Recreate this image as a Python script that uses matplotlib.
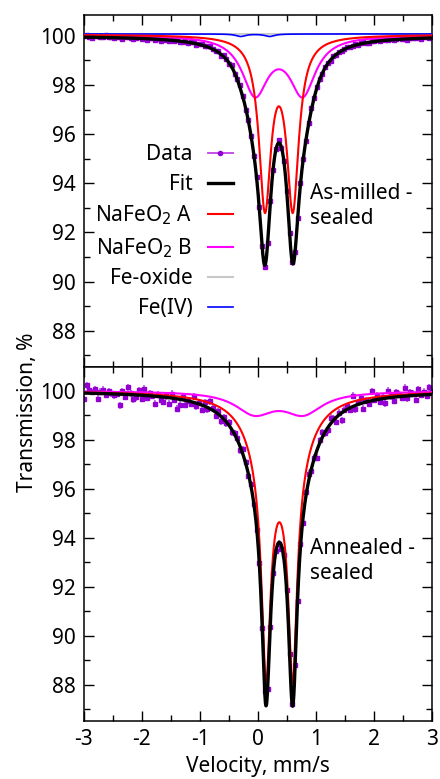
import numpy as np
import matplotlib
matplotlib.use("Agg")
import matplotlib.pyplot as plt
from matplotlib.lines import Line2D

plt.rcParams['font.family'] = ['Noto Sans', 'DejaVu Sans']
plt.rcParams['font.size'] = 15
plt.rcParams['axes.unicode_minus'] = False

# velocity channels, mm/s
v_min, v_max, n_chan = -3.0, 3.0, 128

# doublet lines: centre, splitting, hwhm, depth (%)
top_A = [[0.36, 0.48, 0.125, 6.83]]
top_B = [[0.36, 0.82, 0.27, 2.33]]
top_FeIV = [[-0.05, 0.50, 0.10, 0.10]]
top_base = 100.0
top_comp_base = 100.05
top_side_base = 100.08

# annealed: A has a narrow core and broader wings
bot_A = [[0.368, 0.46, 0.09, 8.6], [0.368, 0.46, 0.35, 2.2]]
bot_B = [[0.36, 0.84, 0.40, 0.86]]
bot_base = 100.0

# data minus fit (%)
top_resid = [
    0.05, 0.08, 0.02, -0.03, 0.04, 0.06, 0.01, 0.03, 0.09, 0.02, 0.04, -0.02, 0.05, 0.03, -0.04, 0.02,
    0.06, 0.00, -0.05, 0.03, 0.07, -0.02, 0.01, -0.04, 0.02, 0.05, -0.03, 0.00, -0.06, 0.02, -0.02, -0.05,
    0.01, -0.03, 0.03, -0.04, -0.02, 0.02, -0.05, 0.01, 0.04, -0.03, 0.02, 0.05, -0.02, 0.03, 0.06, 0.02,
    -0.03, 0.04, -0.05, 0.08, 0.03, -0.04, 0.10, -0.06, 0.05, 0.12, 0.04, -0.08, 0.06, 0.02, -0.05, 0.03,
    0.10, 0.02, -0.07, 0.04, 0.08, -0.03, 0.05, 0.12, -0.04, 0.06, 0.03, -0.05, 0.02, 0.04, -0.03, 0.05,
    0.02, -0.04, 0.03, 0.06, -0.02, 0.04, 0.01, -0.03, 0.05, 0.02, -0.04, 0.03, 0.00, 0.04, -0.02, 0.03,
    0.05, -0.01, 0.02, 0.04, -0.03, 0.02, 0.05, 0.00, -0.02, 0.04, 0.01, 0.03, -0.02, 0.05, 0.02, 0.01,
    0.04, -0.02, 0.03, 0.05, 0.00, 0.02, -0.03, 0.04, 0.02, 0.01, 0.05, -0.01, 0.03, 0.06, 0.02, 0.04,
]
bot_resid = [
    -0.25, 0.32, 0.12, 0.05, 0.18, -0.22, 0.08, 0.15, -0.05, 0.10, 0.02, -0.05, 0.00, -0.45, 0.12, -0.10,
    0.30, 0.05, -0.18, -0.10, 0.20, -0.15, 0.28, -0.08, 0.10, 0.02, -0.30, 0.08, -0.12, -0.20, 0.05, -0.25,
    0.18, -0.05, -0.40, -0.22, 0.10, -0.18, 0.00, -0.10, 0.25, -0.12, 0.05, -0.20, 0.15, -0.08, 0.30, 0.10,
    -0.15, 0.12, -0.20, 0.08, -0.05, 0.15, -0.10, 0.05, 0.10, -0.15, 0.20, 0.05, -0.08, 0.12, 0.00, -0.10,
    0.08, -0.12, 0.15, 0.05, -0.10, 0.10, 0.02, -0.05, -0.15, 0.20, 0.12, -0.08, 0.05, 0.15, -0.20, 0.10,
    -0.25, 0.15, 0.28, -0.10, 0.05, -0.30, 0.12, 0.20, -0.05, -0.12, 0.25, 0.08, -0.18, 0.10, -0.30, 0.05,
    0.12, -0.08, 0.45, -0.15, 0.10, 0.22, -0.25, 0.05, -0.10, 0.38, 0.00, 0.15, -0.12, 0.08, -0.20, 0.30,
    0.05, -0.15, 0.20, 0.10, -0.05, 0.35, -0.10, 0.15, 0.08, -0.18, 0.25, 0.02, 0.12, -0.05, 0.30, 0.15,
]
top_err = 0.03
bot_err = 0.14

legend_labels = ['Data', 'Fit', 'NaFeO$_2$ A', 'NaFeO$_2$ B', 'Fe-oxide', 'Fe(IV)']
panel_labels = ['As-milled -\nsealed', 'Annealed -\nsealed']


def absorption(v, lines):
    out = np.zeros_like(v)
    for c, q, g, d in lines:
        out += d * (g**2 / (g**2 + (v - c + q / 2)**2) + g**2 / (g**2 + (v - c - q / 2)**2))
    return out


vel = np.linspace(v_min, v_max, n_chan)
vf = np.linspace(v_min, v_max, 1200)

fig = plt.figure(figsize=(4.40, 7.79), dpi=100)
ax1 = fig.add_axes([0.1909, 0.5289, 0.7909, 0.4518])
ax2 = fig.add_axes([0.1909, 0.0745, 0.7909, 0.4544])

# top panel
top_all = top_A + top_B + top_FeIV
fit_top = top_base - absorption(vf, top_all)
dat_top = top_base - absorption(vel, top_all) + np.array(top_resid)
ax1.errorbar(vel, dat_top, yerr=top_err, fmt='s', ms=2.2, color='#9400d3', ecolor='#b060e8',
             elinewidth=1.2, capsize=0, zorder=2)
ax1.plot(vf, np.full_like(vf, top_side_base), color='#c8c8c8', lw=1.3, zorder=3)
ax1.plot(vf, top_side_base - absorption(vf, top_FeIV), color='#0000ff', lw=1.2, zorder=3)
ax1.plot(vf, top_comp_base - absorption(vf, top_B), color='#ff00ff', lw=1.5, zorder=4)
ax1.plot(vf, top_comp_base - absorption(vf, top_A), color='#ff0000', lw=1.5, zorder=4)
ax1.plot(vf, fit_top, color='black', lw=2.4, zorder=5)

# bottom panel
bot_all = bot_A + bot_B
fit_bot = bot_base - absorption(vf, bot_all)
dat_bot = bot_base - absorption(vel, bot_all) + np.array(bot_resid)
ax2.errorbar(vel, dat_bot, yerr=bot_err, fmt='s', ms=2.2, color='#9400d3', ecolor='#b060e8',
             elinewidth=1.2, capsize=0, zorder=2)
ax2.plot(vf, bot_base - absorption(vf, bot_B), color='#ff00ff', lw=1.5, zorder=4)
ax2.plot(vf, bot_base - absorption(vf, bot_A), color='#ff0000', lw=1.5, zorder=4)
ax2.plot(vf, fit_bot, color='black', lw=2.4, zorder=5)

for ax in (ax1, ax2):
    ax.set_xlim(-3, 3)
    ax.set_xticks(np.arange(-3, 4, 1))
    ax.set_xticks(np.arange(-3, 3.1, 0.5), minor=True)
    ax.set_yticks(np.arange(88, 101, 2))
    ax.set_yticks(np.arange(87, 101, 1), minor=True)
    ax.tick_params(which='both', direction='in', top=True, right=True, width=1)
    ax.tick_params(which='major', length=7, pad=6)
    ax.tick_params(which='minor', length=4)
    for s in ax.spines.values():
        s.set_linewidth(1.1)

ax1.set_ylim(86.52, 100.85)
ax2.set_ylim(86.53, 100.98)
ax1.tick_params(labelbottom=False)
ax2.set_xlabel('Velocity, mm/s', labelpad=4)
fig.text(0.062, 0.4711, 'Transmission, %', rotation=90, ha='center', va='center', fontsize=15)

ax1.text(0.9, 93.08, panel_labels[0], ha='left', va='center', linespacing=1.25)
ax2.text(0.9, 93.04, panel_labels[1], ha='left', va='center', linespacing=1.25)

handles = [
    Line2D([], [], color='#c040e8', lw=1.3, marker='o', ms=3, mfc='#9400d3', mec='#9400d3'),
    Line2D([], [], color='black', lw=2.4),
    Line2D([], [], color='#ff0000', lw=1.5),
    Line2D([], [], color='#ff00ff', lw=1.5),
    Line2D([], [], color='#c8c8c8', lw=1.5),
    Line2D([], [], color='#0000ff', lw=1.2),
]
leg = ax1.legend(handles, legend_labels, loc='upper right', bbox_to_anchor=(0.428, 0.633),
                 frameon=False, markerfirst=False, handlelength=1.2, handletextpad=0.74,
                 labelspacing=0.42, borderpad=0, borderaxespad=0)

fig.savefig('out.png', dpi=100)
